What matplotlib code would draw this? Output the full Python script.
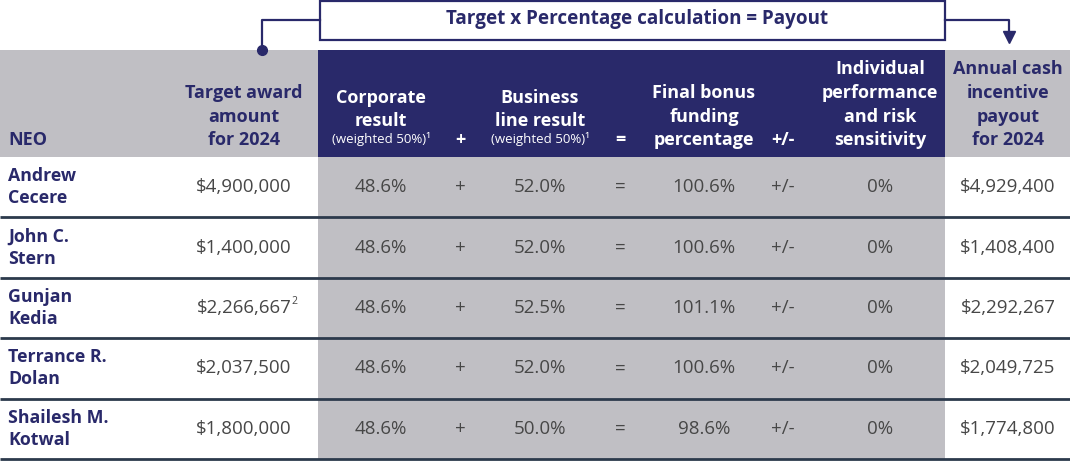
import matplotlib
matplotlib.use("Agg")
import matplotlib.pyplot as plt
from matplotlib.patches import Rectangle

# data
names = ["Andrew\nCecere", "John C.\nStern", "Gunjan\nKedia", "Terrance R.\nDolan", "Shailesh M.\nKotwal"]
target_award = [4900000, 1400000, 2266667, 2037500, 1800000]
target_note = ["", "", "2", "", ""]
corporate = [48.6, 48.6, 48.6, 48.6, 48.6]
business = [52.0, 52.0, 52.5, 52.0, 50.0]
final_pct = [100.6, 100.6, 101.1, 100.6, 98.6]
individual = [0, 0, 0, 0, 0]
payout = [4929400, 1408400, 2292267, 2049725, 1774800]

title = "Target x Percentage calculation = Payout"

NAVY = "#29296a"
GRAY = "#c0bfc4"
TXT = "#474747"
LINE = "#2c3a4c"
plt.rcParams["font.family"] = ["Open Sans", "DejaVu Sans"]

fig = plt.figure(figsize=(10.7, 4.61), dpi=100)
ax = fig.add_axes([0, 0, 1, 1])
ax.set_xlim(0, 1070)
ax.set_ylim(461, 0)
ax.axis("off")

# layout
x_mid0, x_mid1 = 318, 945
head_top, head_bot = 50, 157
row_h = 60.4
cx = dict(target=244, corp=381, plus=460, bus=540, eq=620, fin=704, pm=783, ind=880, pay=1008)

# header backgrounds
ax.add_patch(Rectangle((0, head_top), x_mid0, head_bot - head_top, fc=GRAY, ec="none"))
ax.add_patch(Rectangle((x_mid0, head_top), x_mid1 - x_mid0, head_bot - head_top, fc=NAVY, ec="none"))
ax.add_patch(Rectangle((x_mid1, head_top), 1070 - x_mid1, head_bot - head_top, fc=GRAY, ec="none"))

# body middle band
n = len(names)
ax.add_patch(Rectangle((x_mid0, head_bot), x_mid1 - x_mid0, row_h * n, fc=GRAY, ec="none"))

# top bracket box
ax.add_patch(Rectangle((320, 1), 625, 39, fc="white", ec=NAVY, lw=1.6))
ax.text(637, 19, title, color=NAVY, fontsize=13.6, fontweight="bold", ha="center", va="center")
ax.plot([320, 262, 262], [20, 20, 50], color=NAVY, lw=1.6)
ax.plot([262], [50], "o", color=NAVY, ms=7)
ax.plot([945, 1009, 1009], [20, 20, 34], color=NAVY, lw=1.6)
ax.plot([1009], [37], marker="v", color=NAVY, ms=9)

# header text
step = 23.5
base = 145
hfs = 13

def header(x, lines, color, fs=hfs, ha="center"):
    for i, t in enumerate(reversed(lines)):
        ax.text(x, base - i * step, t, color=color, fontsize=fs, fontweight="bold",
                ha=ha, va="baseline")

header(8, ["NEO"], NAVY, ha="left")
header(cx["target"], ["Target award", "amount", "for 2024"], NAVY)
for key, lines in [("corp", ["Corporate", "result"]), ("bus", ["Business", "line result"])]:
    for i, t in enumerate(reversed(lines)):
        ax.text(cx[key], base - 19 - i * step, t, color="white", fontsize=hfs,
                fontweight="bold", ha="center", va="baseline")
    ax.text(cx[key], base - 2, "(weighted 50%)¹", color="white", fontsize=9.5,
            ha="center", va="baseline")
header(cx["plus"], ["+"], "white")
header(cx["eq"], ["="], "white")
header(cx["fin"], ["Final bonus", "funding", "percentage"], "white")
header(cx["pm"], ["+/-"], "white")
header(cx["ind"], ["Individual", "performance", "and risk", "sensitivity"], "white")
header(cx["pay"], ["Annual cash", "incentive", "payout", "for 2024"], NAVY)

# rows
bfs = 13.5
for i in range(n):
    y0 = head_bot + i * row_h
    yc = y0 + row_h / 2
    ax.text(8, yc, names[i], color=NAVY, fontsize=12.8, fontweight="bold", ha="left",
            va="center", linespacing=1.3)
    t = ax.text(cx["target"], yc, f"${target_award[i]:,}", color=TXT, fontsize=bfs,
                ha="center", va="center")
    if target_note[i]:
        ax.annotate(target_note[i], xy=(1, 0.55), xycoords=t, color=TXT, fontsize=7.5,
                    ha="left", va="bottom")
    vals = [("corp", f"{corporate[i]:.1f}%"), ("plus", "+"), ("bus", f"{business[i]:.1f}%"),
            ("eq", "="), ("fin", f"{final_pct[i]:.1f}%"), ("pm", "+/-"),
            ("ind", f"{individual[i]}%"), ("pay", f"${payout[i]:,}")]
    for key, s in vals:
        ax.text(cx[key], yc, s, color=TXT, fontsize=bfs, ha="center", va="center")
    yb = y0 + row_h
    ax.plot([0, 1070], [yb, yb], color=LINE, lw=2.0, solid_capstyle="butt")

fig.savefig("out.png", dpi=100)
